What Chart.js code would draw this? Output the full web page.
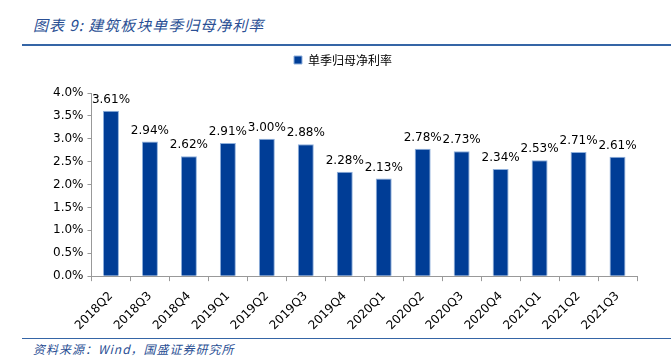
<!DOCTYPE html>
<html>
<head>
<meta charset="utf-8">
<script src="https://cdn.jsdelivr.net/npm/chart.js@4.4.0/dist/chart.umd.min.js"></script>
<style>
  html, body { margin: 0; padding: 0; background: #fff; }
  #wrap { position: relative; width: 671px; height: 361px; overflow: hidden; }
  #title { position: absolute; left: 33px; top: 14px; font: italic 15px "Noto Sans CJK SC", sans-serif; color: #2a4f94; letter-spacing: 1px; }
  #topline { position: absolute; left: 22px; right: 0; top: 44px; height: 2px; background: #3565a6; }
  #footline { position: absolute; left: 22px; right: 0; top: 338px; height: 1px; background: #3565a6; }
  #source { position: absolute; left: 33px; top: 340px; font: italic 12px "Noto Sans CJK SC", sans-serif; color: #2a4f94; letter-spacing: 1px; }
  #chartBox { position: absolute; left: 0; top: 46px; width: 671px; height: 295px; }
</style>
</head>
<body>
<div id="wrap">
  <div id="title">图表 9:  建筑板块单季归母净利率</div>
  <div id="topline"></div>
  <div id="footline"></div>
  <div id="source">资料来源：Wind，国盛证券研究所</div>
  <div id="chartBox"><canvas id="c"></canvas></div>
</div>
<script>
// quarters and single-quarter net margin (%)
const quarters = ['2018Q2','2018Q3','2018Q4','2019Q1','2019Q2','2019Q3','2019Q4',
                  '2020Q1','2020Q2','2020Q3','2020Q4','2021Q1','2021Q2','2021Q3'];
const netMargin = [3.61, 2.94, 2.62, 2.91, 3.00, 2.88, 2.28, 2.13, 2.78, 2.73, 2.34, 2.53, 2.71, 2.61];
const seriesName = '单季归母净利率';

const labelFont = '12px "DejaVu Sans", sans-serif';

// write values on top of the bars
const valueLabels = {
    id: 'valueLabels',
    afterDatasetsDraw(chart) {
        const ctx = chart.ctx;
        const meta = chart.getDatasetMeta(0);
        ctx.save();
        ctx.font = labelFont;
        ctx.fillStyle = '#000';
        ctx.textAlign = 'center';
        ctx.textBaseline = 'bottom';
        meta.data.forEach((bar, i) => {
            ctx.fillText(netMargin[i].toFixed(2) + '%', bar.x, bar.y - 5);
        });
        ctx.restore();
    }
};

// leave more room under the legend
const legendGap = {
    id: 'legendGap',
    beforeInit(chart) {
        const fit = chart.legend.fit;
        chart.legend.fit = function() {
            fit.bind(chart.legend)();
            this.height += 17;
        };
    }
};

new Chart(document.getElementById('c'), {
    type: 'bar',
    data: {
        labels: quarters,
        datasets: [{
            label: seriesName,
            data: netMargin,
            backgroundColor: '#003d96',
            borderColor: '#8fb0dc',
            borderWidth: 1,
            categoryPercentage: 1.0,
            barPercentage: 0.41
        }]
    },
    options: {
        responsive: true,
        maintainAspectRatio: false,
        animation: false,
        layout: { padding: { left: 49, right: 34, top: 0, bottom: 0 } },
        plugins: {
            legend: {
                display: true,
                position: 'top',
                labels: {
                    boxWidth: 8,
                    boxHeight: 8,
                    color: '#000',
                    font: { family: '"Noto Sans CJK SC", sans-serif', size: 12 },
                    padding: 8
                }
            },
            tooltip: { enabled: false }
        },
        scales: {
            x: {
                grid: { display: true, drawOnChartArea: false, offset: true, color: '#999', tickLength: 5 },
                border: { color: '#999' },
                ticks: {
                    color: '#000',
                    font: { family: '"DejaVu Sans", sans-serif', size: 12 },
                    minRotation: 45,
                    maxRotation: 45,
                    padding: 8
                }
            },
            y: {
                min: 0,
                max: 4,
                grid: { display: true, drawOnChartArea: false, color: '#999', tickLength: 4 },
                border: { color: '#999' },
                ticks: {
                    stepSize: 0.5,
                    color: '#000',
                    font: { family: '"DejaVu Sans", sans-serif', size: 12 },
                    callback: v => v.toFixed(1) + '%',
                    padding: 4
                }
            }
        }
    },
    plugins: [valueLabels, legendGap]
});
</script>
</body>
</html>
